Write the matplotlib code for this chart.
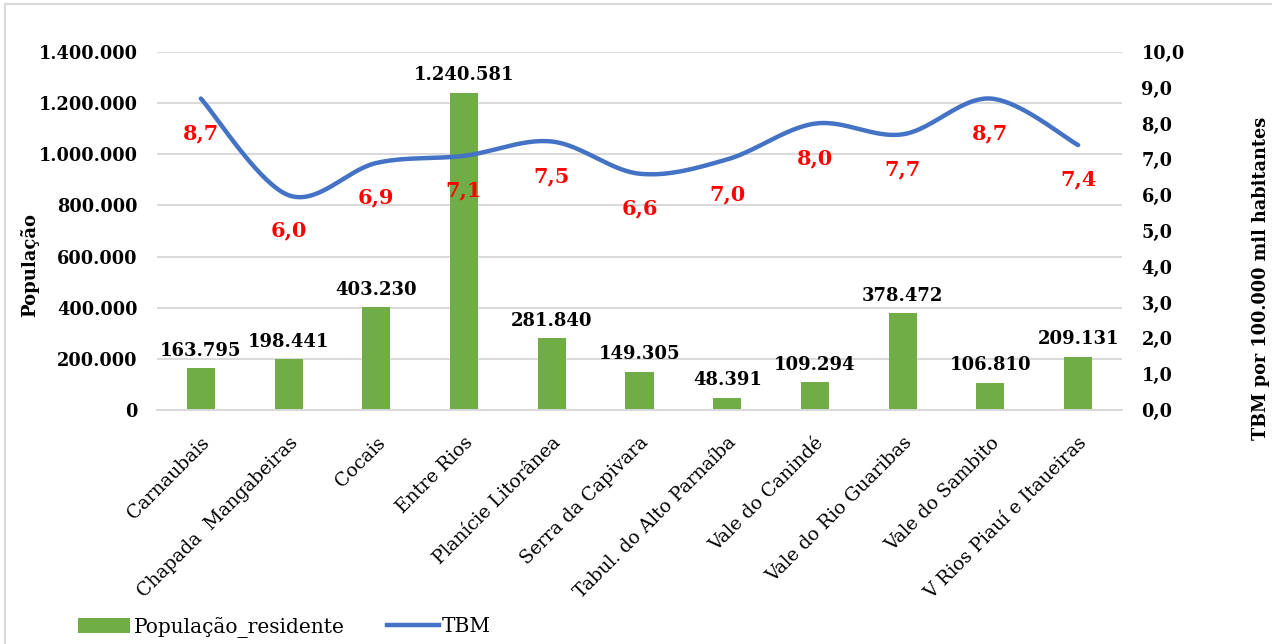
import matplotlib
matplotlib.use("Agg")
import matplotlib.pyplot as plt
import numpy as np
from matplotlib.patches import Patch
from matplotlib.lines import Line2D
from matplotlib.ticker import FuncFormatter, MultipleLocator

categories = ["Carnaubais", "Chapada  Mangabeiras", "Cocais", "Entre Rios",
              "Planície Litorânea", "Serra da Capivara", "Tabul. do Alto Parnaíba",
              "Vale do Canindé", "Vale do Rio Guaribas", "Vale do Sambito",
              "V Rios Piauí e Itaueiras"]
populacao = [163795, 198441, 403230, 1240581, 281840, 149305, 48391,
             109294, 378472, 106810, 209131]
tbm = [8.7, 6.0, 6.9, 7.1, 7.5, 6.6, 7.0, 8.0, 7.7, 8.7, 7.4]

GREEN = "#70AD47"
BLUE = "#4472C4"
GRID = "#D9D9D9"
SERIF = "DejaVu Serif"

W, H = 1272, 644
fig = plt.figure(figsize=(W / 100, H / 100), dpi=100)
left, right, top, bottom = 157, 1122, 52, 410
ax = fig.add_axes([left / W, 1 - bottom / H, (right - left) / W, (bottom - top) / H])
ax2 = ax.twinx()

x = np.arange(len(categories))
ax.bar(x, populacao, width=0.32, color=GREEN, zorder=2)
ax.set_xlim(-0.5, len(categories) - 0.5)
ax.set_ylim(0, 1400000)
ax.yaxis.set_major_locator(MultipleLocator(200000))

def fmt_pt(v, pos=None):
    return f"{int(round(v)):,}".replace(",", ".")

ax.yaxis.set_major_formatter(FuncFormatter(fmt_pt))
ax.grid(axis="y", color=GRID, linewidth=1.4, zorder=0)
ax.set_axisbelow(True)
for s in ax.spines.values():
    s.set_visible(False)
for s in ax2.spines.values():
    s.set_visible(False)
ax.spines["bottom"].set_visible(True)
ax.spines["bottom"].set_color(GRID)
ax.spines["bottom"].set_linewidth(1.4)

ax.tick_params(axis="y", length=0, pad=14, labelsize=12.8)
ax.tick_params(axis="x", length=0, pad=4, labelsize=13.5)
for lab in ax.get_yticklabels():
    lab.set_fontfamily(SERIF)
    lab.set_fontweight("bold")
ax.set_xticks(x)
ax.set_xticklabels(categories, rotation=45, ha="right", rotation_mode="anchor",
                   family=SERIF, fontsize=13.5)
for lab in ax.get_xticklabels():
    lab.set_y(-0.05)
    lab.set_x(0)

ax.set_ylabel("População", family=SERIF, fontweight="bold", fontsize=13)
ax.yaxis.set_label_coords(-118 / (right - left), (bottom - 265) / (bottom - top))

# bar labels
for xi, v in zip(x, populacao):
    ax.annotate(fmt_pt(v), (xi, v), xytext=(0, 6), textcoords="offset points",
                ha="center", va="bottom", family=SERIF, fontweight="bold",
                fontsize=13, color="black", zorder=5)

# smoothed TBM line (Excel-like Bezier smoothing)
pts = np.column_stack([x, tbm]).astype(float)
n = len(pts)
curve = []
tt = np.linspace(0, 1, 40)
for i in range(n - 1):
    p0 = pts[max(i - 1, 0)]
    p1 = pts[i]
    p2 = pts[i + 1]
    p3 = pts[min(i + 2, n - 1)]
    c1 = p1 + (p2 - p0) / 6
    c2 = p2 - (p3 - p1) / 6
    seg = ((1 - tt) ** 3)[:, None] * p1 + (3 * (1 - tt) ** 2 * tt)[:, None] * c1 \
        + (3 * (1 - tt) * tt ** 2)[:, None] * c2 + (tt ** 3)[:, None] * p2
    curve.append(seg if i == 0 else seg[1:])
curve = np.vstack(curve)
ax2.plot(curve[:, 0], curve[:, 1], color=BLUE, linewidth=3.2,
         solid_capstyle="round", zorder=3)
ax2.set_ylim(0, 10)
ax2.yaxis.set_major_locator(MultipleLocator(1))
ax2.yaxis.set_major_formatter(FuncFormatter(lambda v, p: f"{v:.1f}".replace(".", ",")))
ax2.tick_params(axis="y", length=0, pad=14, labelsize=12.8)
for lab in ax2.get_yticklabels():
    lab.set_fontfamily(SERIF)
    lab.set_fontweight("bold")
ax2.set_ylabel("TBM por 100.000 mil habitantes", family=SERIF, fontweight="bold",
               fontsize=12.7)
ax2.yaxis.set_label_coords((1252 - left) / (right - left), (bottom - 278) / (bottom - top))

for xi, v in zip(x, tbm):
    ax2.annotate(f"{v:.1f}".replace(".", ","), (xi, v), xytext=(0, -25),
                 textcoords="offset points", ha="center", va="center",
                 family=SERIF, fontweight="bold", fontsize=15, color="#FF0000",
                 zorder=6)

handles = [Patch(facecolor=GREEN, edgecolor="none"),
           Line2D([0], [0], color=BLUE, linewidth=3.2)]
fig.legend(handles, ["População_residente", "TBM"], loc="center left",
           bbox_to_anchor=(78 / W, 1 - 627 / H), ncol=2, frameon=False,
           prop={"family": SERIF, "size": 14.5}, handlelength=2.6,
           handletextpad=0.15, columnspacing=2.1, borderaxespad=0, borderpad=0)

# chart-area border (left and top visible)
fig.add_artist(Line2D([5 / W, 5 / W], [0, 1 - 4 / H], transform=fig.transFigure,
                      color=GRID, linewidth=1.5))
fig.add_artist(Line2D([5 / W, 1], [1 - 4 / H, 1 - 4 / H], transform=fig.transFigure,
                      color=GRID, linewidth=1.5))

fig.savefig("out.png", dpi=100)
